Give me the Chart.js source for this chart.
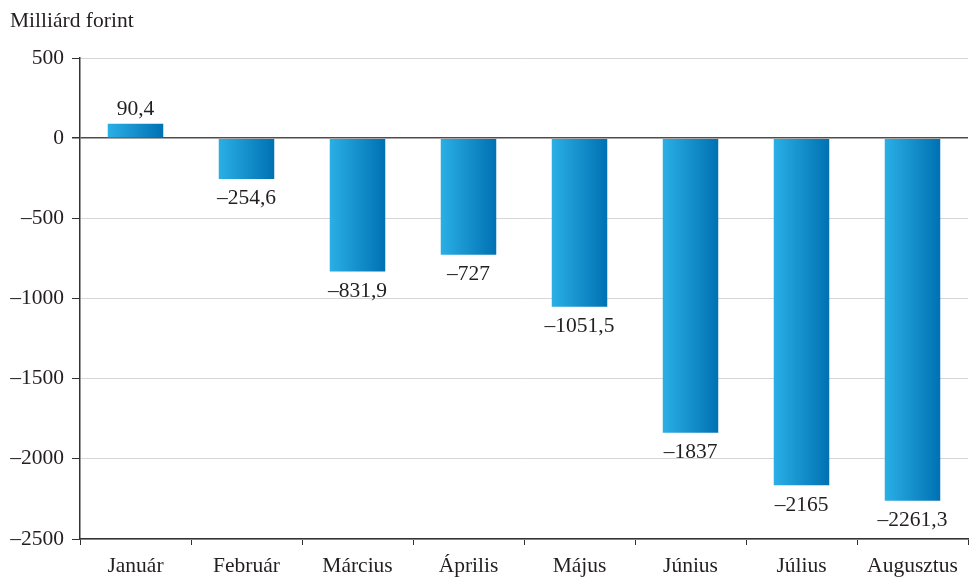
<!DOCTYPE html>
<html>
<head>
<meta charset="utf-8">
<script src="https://cdn.jsdelivr.net/npm/chart.js@4.4.0/dist/chart.umd.min.js"></script>
<style>
  body { margin: 0; background: #fff; }
  #wrap { width: 969px; height: 577px; }
</style>
</head>
<body>
<div id="wrap"><canvas id="chart" width="969" height="577"></canvas></div>
<script>
// Data
const months = ['Január', 'Február', 'Március', 'Április', 'Május', 'Június', 'Július', 'Augusztus'];
const values = [90.4, -254.6, -831.9, -727, -1051.5, -1837, -2165, -2261.3];
const yTicks = [500, 0, -500, -1000, -1500, -2000, -2500];
const unitLabel = 'Milliárd forint';

const FONT = '"Liberation Serif", "DejaVu Serif", serif';
const INK = '#231f20';
const SIZE = 21.5;

// hungarian style: comma decimal, dash for minus
function fmt(v) {
  return String(v).replace('.', ',').replace('-', '\u2013');
}

// horizontal gradient for every bar, light left -> dark right
function barGradient(ctx) {
  const chart = ctx.chart;
  const x = chart.scales.x;
  if (!chart.chartArea || !x) return '#1a9ad6';
  const cx = x.getPixelForValue(ctx.dataIndex);
  const w = (x.width / months.length) * 0.5;
  const g = chart.ctx.createLinearGradient(cx - w / 2, 0, cx + w / 2, 0);
  g.addColorStop(0, '#2aafe5');
  g.addColorStop(1, '#0071b3');
  return g;
}

const valueLabels = {
  id: 'valueLabels',
  afterDatasetsDraw(chart) {
    const c = chart.ctx;
    const meta = chart.getDatasetMeta(0);
    c.save();
    c.font = SIZE + 'px ' + FONT;
    c.fillStyle = INK;
    c.textAlign = 'center';
    meta.data.forEach((bar, i) => {
      const v = values[i];
      if (v >= 0) {
        c.textBaseline = 'bottom';
        c.fillText(fmt(v), bar.x, bar.y - 4);
      } else {
        c.textBaseline = 'top';
        c.fillText(fmt(v), bar.x, bar.y + 9);
      }
    });
    c.restore();
  }
};

const unitTitle = {
  id: 'unitTitle',
  afterDraw(chart) {
    const c = chart.ctx;
    c.save();
    c.font = SIZE + 'px ' + FONT;
    c.fillStyle = INK;
    c.textAlign = 'left';
    c.textBaseline = 'middle';
    c.fillText(unitLabel, 10, 21);
    c.restore();
  }
};

new Chart(document.getElementById('chart'), {
  type: 'bar',
  data: {
    labels: months,
    datasets: [{
      data: values,
      backgroundColor: barGradient,
      borderWidth: 0,
      barPercentage: 0.5,
      categoryPercentage: 1
    }]
  },
  options: {
    responsive: false,
    animation: false,
    devicePixelRatio: 1,
    layout: { padding: { top: 58, right: 1, left: 0, bottom: 0 } },
    plugins: {
      legend: { display: false },
      tooltip: { enabled: false }
    },
    scales: {
      x: {
        afterFit: s => { s.height = 38; },
        border: { color: '#333', width: 1.5 },
        grid: {
          offset: true,
          drawOnChartArea: false,
          drawTicks: true,
          tickLength: 6,
          tickColor: '#333'
        },
        ticks: {
          color: INK,
          font: { family: FONT, size: SIZE },
          padding: 8,
          maxRotation: 0
        }
      },
      y: {
        min: -2500,
        max: 500,
        afterFit: s => { s.width = 80; },
        afterBuildTicks: s => { s.ticks = yTicks.map(v => ({ value: v })); },
        border: { color: '#333', width: 1.5 },
        grid: {
          color: ctx => (ctx.tick && ctx.tick.value === 0) ? '#4d4d4d' : '#d6d6d6',
          lineWidth: ctx => (ctx.tick && ctx.tick.value === 0) ? 1.5 : 1,
          drawTicks: true,
          tickLength: 8,
          tickColor: '#333'
        },
        ticks: {
          color: INK,
          font: { family: FONT, size: SIZE },
          padding: 8,
          callback: v => fmt(v)
        }
      }
    }
  },
  plugins: [valueLabels, unitTitle]
});
</script>
</body>
</html>
